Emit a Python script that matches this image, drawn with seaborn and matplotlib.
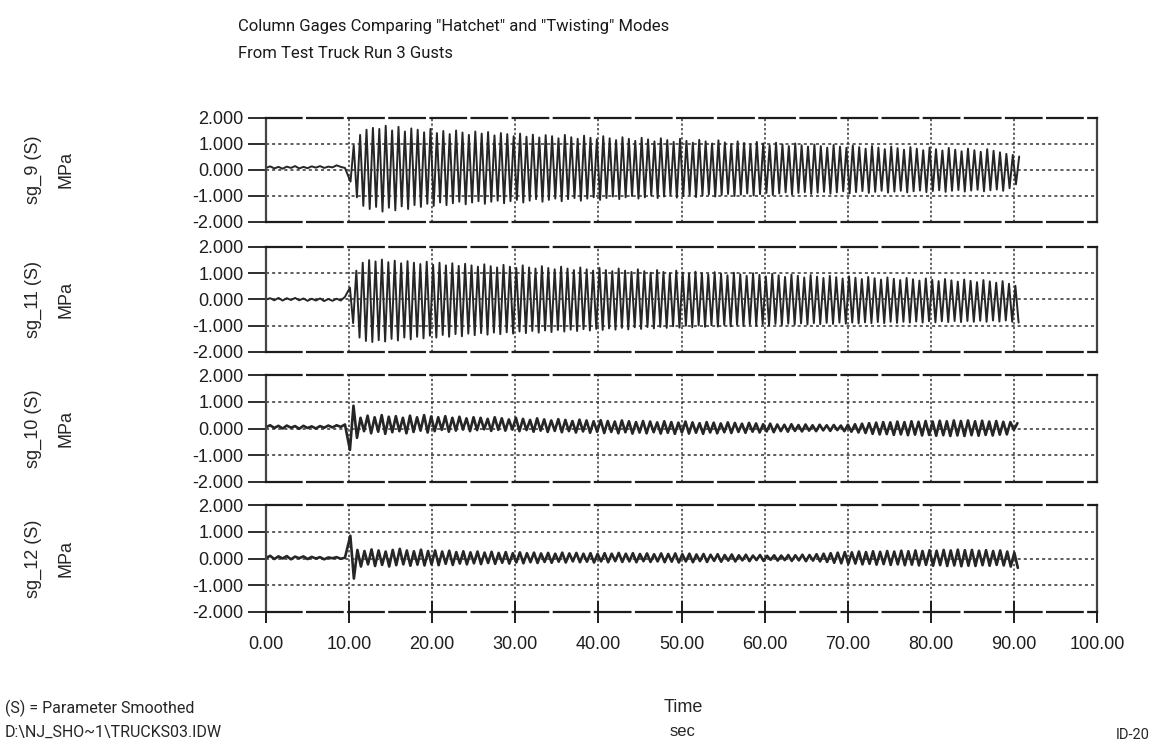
import numpy as np
import pandas as pd
import matplotlib
matplotlib.use("Agg")
import matplotlib.pyplot as plt
import seaborn as sns

sns.set_style("white")
plt.rcParams['font.family'] = ['Liberation Sans', 'DejaVu Sans']
NARROW = ['Roboto', 'Liberation Sans', 'DejaVu Sans']

# ---- data (MPa) ----
x_ticks = [0, 10, 20, 30, 40, 50, 60, 70, 80, 90, 100]
y_ticks = [-2, -1, 0, 1, 2]
panel_names = ["sg_9 (S)", "sg_11 (S)", "sg_10 (S)", "sg_12 (S)"]

# quiet part before the gust, sampled every 0.5 s from t = 0
pre_step = 0.5
sg9_pre = [0.08, 0.14, 0.06, 0.12, 0.05, 0.13, 0.08, 0.15, 0.06, 0.12,
           0.07, 0.14, 0.09, 0.15, 0.08, 0.13, 0.10, 0.18, 0.12, 0.08]
sg11_pre = [0.00, 0.05, -0.03, 0.06, -0.04, 0.05, -0.02, 0.06, -0.03, 0.04,
            -0.05, 0.03, -0.04, 0.04, -0.06, 0.02, -0.05, 0.03, -0.04, 0.10]
sg10_pre = [0.05, 0.12, 0.02, 0.10, 0.00, 0.11, 0.03, 0.09, -0.01, 0.10,
            0.02, 0.08, 0.00, 0.09, 0.03, 0.11, 0.04, 0.12, 0.06, 0.15]
sg12_pre = [0.02, 0.10, -0.02, 0.08, 0.00, 0.09, -0.03, 0.07, 0.01, 0.08,
            -0.02, 0.06, 0.00, 0.05, -0.03, 0.04, 0.01, 0.05, -0.01, 0.03]

# cycle-by-cycle peaks after the gust (hatchet mode, ~1.3 Hz)
sg9_period, sg9_first_low = 0.77, 10.17
sg9_hi = [0.95, 1.35, 1.55, 1.62, 1.58,
          1.70, 1.52, 1.66, 1.48, 1.60, 1.55,
          1.45, 1.58, 1.42, 1.50, 1.38, 1.52, 1.44, 1.35, 1.48, 1.40, 1.46, 1.33, 1.42, 1.38, 1.30,
          1.40, 1.28, 1.36, 1.25, 1.34, 1.30, 1.22, 1.35, 1.26, 1.20, 1.32, 1.24, 1.18, 1.30, 1.22,
          1.15, 1.26, 1.20, 1.12, 1.24,
          1.18, 1.10, 1.22, 1.15, 1.08, 1.20, 1.12, 1.05, 1.16, 1.10, 1.02, 1.14, 1.06, 1.00, 1.10,
          1.04, 0.98, 1.08, 1.02, 0.95,
          1.05, 0.98, 0.92, 1.02, 0.95, 0.90, 0.98, 0.92, 0.86, 0.96, 0.90, 0.85, 0.94, 0.88, 0.82,
          0.92, 0.86, 0.80, 0.90, 0.84,
          0.78, 0.88, 0.82, 0.76, 0.86, 0.80, 0.75, 0.85, 0.78, 0.72, 0.82, 0.76, 0.70, 0.80, 0.74,
          0.68, 0.62, 0.58, 0.52]
sg9_lo = [-0.45, -1.05, -1.38, -1.50, -1.42,
          -1.60, -1.45, -1.55, -1.40, -1.50, -1.35,
          -1.42, -1.30, -1.38, -1.25, -1.35, -1.28, -1.22, -1.32, -1.25, -1.20, -1.30, -1.22, -1.18,
          -1.28, -1.20,
          -1.15, -1.25, -1.18, -1.12, -1.22, -1.15, -1.10, -1.20, -1.12, -1.08, -1.18, -1.10, -1.05,
          -1.15, -1.08, -1.02, -1.12, -1.05, -1.00, -1.10,
          -1.05, -0.98, -1.08, -1.02, -0.96, -1.06, -1.00, -0.95, -1.04, -0.98, -0.94, -1.02, -0.96,
          -0.92, -1.00, -0.95, -0.90, -0.98, -0.93, -0.88,
          -0.96, -0.90, -0.86, -0.94, -0.88, -0.85, -0.92, -0.87, -0.84, -0.91, -0.86, -0.82, -0.90,
          -0.85, -0.81, -0.88, -0.84, -0.80, -0.87, -0.83,
          -0.80, -0.86, -0.82, -0.79, -0.85, -0.81, -0.78, -0.84, -0.80, -0.77, -0.83, -0.79, -0.76,
          -0.82, -0.78, -0.75, -0.80, -0.70, -0.55]

sg11_period, sg11_first_low = 0.77, 10.485
sg11_hi = [0.45, 1.10, 1.40, 1.50, 1.45,
           1.52, 1.42, 1.48, 1.38, 1.46, 1.40,
           1.35, 1.44, 1.32, 1.40, 1.30, 1.38, 1.28, 1.36, 1.30, 1.25, 1.34, 1.27, 1.22, 1.32, 1.25,
           1.20, 1.30, 1.22, 1.18, 1.27, 1.20, 1.15, 1.25, 1.18, 1.12, 1.22, 1.15, 1.10, 1.20, 1.12,
           1.08, 1.18, 1.10, 1.05, 1.15,
           1.08, 1.02, 1.12, 1.05, 1.00, 1.10, 1.02, 0.98, 1.06, 1.00, 0.95, 1.04, 0.98, 0.92, 1.02,
           0.96, 0.90, 1.00, 0.94, 0.88,
           0.98, 0.92, 0.86, 0.95, 0.90, 0.84, 0.93, 0.87, 0.82, 0.90, 0.85, 0.80, 0.88, 0.83, 0.78,
           0.86, 0.81, 0.76, 0.84, 0.79,
           0.74, 0.82, 0.77, 0.72, 0.80, 0.75, 0.70, 0.78, 0.73, 0.68, 0.76, 0.71, 0.66, 0.74, 0.69,
           0.64, 0.70, 0.60, 0.52]
sg11_lo = [-0.90, -1.45, -1.58, -1.62, -1.55,
           -1.60, -1.50, -1.56, -1.45, -1.52, -1.42,
           -1.48, -1.38, -1.45, -1.35, -1.42, -1.32, -1.40, -1.30, -1.36, -1.28, -1.34, -1.26, -1.32,
           -1.25, -1.30,
           -1.22, -1.28, -1.20, -1.26, -1.18, -1.24, -1.16, -1.22, -1.15, -1.20, -1.13, -1.18, -1.12,
           -1.16, -1.10, -1.15, -1.08, -1.14, -1.06, -1.12,
           -1.05, -1.10, -1.04, -1.08, -1.02, -1.07, -1.00, -1.06, -0.99, -1.04, -0.98, -1.03, -0.97,
           -1.02, -0.96, -1.00, -0.95, -0.99, -0.94, -0.98,
           -0.93, -0.97, -0.92, -0.96, -0.91, -0.95, -0.90, -0.94, -0.89, -0.93, -0.88, -0.92, -0.88,
           -0.91, -0.87, -0.90, -0.86, -0.90, -0.85, -0.89,
           -0.85, -0.88, -0.84, -0.88, -0.83, -0.87, -0.83, -0.86, -0.82, -0.86, -0.82, -0.85, -0.81,
           -0.85, -0.80, -0.84, -0.80, -0.85, -0.88]

# twisting mode gages, ~1.2 Hz, with the initial kick at 10 s
sg10_period, sg10_first_low = 0.85, 10.1
sg10_hi = [0.85, 0.40, 0.48, 0.42, 0.50, 0.44, 0.46, 0.40, 0.48, 0.42,
           0.50, 0.45, 0.42, 0.46, 0.40, 0.44, 0.38, 0.42, 0.40, 0.36, 0.42, 0.38, 0.34, 0.40, 0.36,
           0.32, 0.38, 0.34, 0.30, 0.35, 0.32, 0.28, 0.33, 0.30, 0.27, 0.31, 0.28, 0.26, 0.30, 0.27,
           0.24, 0.28, 0.26, 0.23, 0.27,
           0.24, 0.22, 0.26, 0.23, 0.20, 0.24, 0.22, 0.19, 0.23, 0.21, 0.18, 0.21, 0.19, 0.16, 0.18,
           0.15, 0.14, 0.16, 0.13, 0.15,
           0.12, 0.14, 0.12, 0.13, 0.11, 0.14, 0.16, 0.18, 0.20, 0.22, 0.24, 0.23, 0.26, 0.24, 0.27,
           0.25, 0.28, 0.26, 0.29, 0.27, 0.30, 0.28, 0.30, 0.27, 0.29, 0.26, 0.28, 0.25, 0.24, 0.20]
sg10_lo = [-0.80, -0.35, -0.10, -0.18, -0.12, -0.20, -0.14, -0.10, -0.18, -0.13,
           -0.08, -0.15, -0.10, -0.05, -0.12, -0.08, -0.04, -0.10, -0.06, -0.03, -0.09, -0.05, -0.08,
           -0.04, -0.10,
           -0.06, -0.12, -0.08, -0.13, -0.09, -0.14, -0.10, -0.15, -0.11, -0.16, -0.12, -0.17, -0.13,
           -0.18, -0.14, -0.19, -0.15, -0.18, -0.14, -0.19,
           -0.16, -0.20, -0.15, -0.19, -0.16, -0.20, -0.15, -0.18, -0.14, -0.17, -0.13, -0.16, -0.12,
           -0.15, -0.11, -0.14, -0.10, -0.12, -0.09, -0.11,
           -0.08, -0.10, -0.07, -0.09, -0.06, -0.10, -0.12, -0.15, -0.17, -0.20, -0.22, -0.21, -0.24,
           -0.22, -0.25,
           -0.23, -0.26, -0.24, -0.27, -0.25, -0.28, -0.26, -0.28, -0.25, -0.27, -0.24, -0.26, -0.23,
           -0.22, -0.05]

sg12_period, sg12_first_low = 0.85, 10.575
sg12_hi = [0.85, 0.32, 0.28, 0.34, 0.30, 0.26, 0.32, 0.36, 0.30, 0.27,
           0.33, 0.28, 0.30, 0.26, 0.29, 0.24, 0.27, 0.23, 0.26, 0.22, 0.25, 0.21, 0.24, 0.20, 0.23,
           0.20, 0.22, 0.19, 0.21, 0.18, 0.22, 0.19, 0.21, 0.18, 0.20, 0.17, 0.20, 0.18, 0.21, 0.18,
           0.20, 0.17, 0.19, 0.16, 0.19,
           0.17, 0.19, 0.16, 0.18, 0.15, 0.17, 0.14, 0.16, 0.13, 0.15, 0.12, 0.14, 0.11, 0.13, 0.10,
           0.12, 0.11, 0.13, 0.12, 0.14,
           0.13, 0.16, 0.18, 0.20, 0.22, 0.24, 0.23, 0.26, 0.24, 0.27, 0.25, 0.28, 0.26, 0.29, 0.27,
           0.30, 0.28, 0.31, 0.29, 0.32, 0.30, 0.33, 0.31, 0.32, 0.29, 0.31, 0.28, 0.30, 0.26, 0.22]
sg12_lo = [-0.75, -0.30, -0.22, -0.28, -0.24, -0.30, -0.25, -0.22, -0.27, -0.23,
           -0.26, -0.22, -0.25, -0.20, -0.24, -0.19, -0.22, -0.18, -0.21, -0.17, -0.20, -0.16, -0.19,
           -0.15, -0.18,
           -0.14, -0.17, -0.13, -0.16, -0.12, -0.15, -0.11, -0.14, -0.12, -0.15, -0.11, -0.14, -0.10,
           -0.13, -0.11, -0.14, -0.10, -0.13, -0.11, -0.14,
           -0.12, -0.15, -0.11, -0.14, -0.10, -0.13, -0.09, -0.12, -0.08, -0.11, -0.07, -0.10, -0.06,
           -0.09, -0.05, -0.08, -0.06, -0.09, -0.07, -0.10,
           -0.08, -0.11, -0.13, -0.16, -0.18, -0.20, -0.19, -0.22, -0.20, -0.23, -0.21, -0.24, -0.22,
           -0.25, -0.23,
           -0.26, -0.24, -0.27, -0.25, -0.28, -0.26, -0.29, -0.27, -0.28, -0.25, -0.27, -0.24, -0.26,
           -0.30, -0.35]


def build_trace(pre, first_low, period, lows, highs, low_first=True):
    t_pre = np.arange(len(pre)) * pre_step
    n = min(len(lows), len(highs))
    t_lo = first_low + period * np.arange(n)
    if low_first:
        t_hi = t_lo + period / 2
    else:
        t_hi = t_lo - period / 2
    t_osc = np.column_stack([t_lo, t_hi]).ravel()
    v_osc = np.column_stack([lows[:n], highs[:n]]).ravel()
    order = np.argsort(t_osc, kind="stable")
    return pd.DataFrame({"Time": np.concatenate([t_pre, t_osc[order]]),
                         "MPa": np.concatenate([pre, v_osc[order]])})


traces = [
    build_trace(sg9_pre, sg9_first_low, sg9_period, sg9_lo, sg9_hi, True),
    build_trace(sg11_pre, sg11_first_low, sg11_period, sg11_lo, sg11_hi, False),
    build_trace(sg10_pre, sg10_first_low, sg10_period, sg10_lo, sg10_hi, True),
    build_trace(sg12_pre, sg12_first_low, sg12_period, sg12_lo, sg12_hi, False),
]
line_widths = [1.4, 1.4, 1.9, 1.9]

fig = plt.figure(figsize=(11.54, 7.43), dpi=100)
W, H = 1154, 743
# panel (top, bottom) edges in pixels
panel_px = [(118, 222), (247, 352), (375, 482), (505, 612)]
left_px, right_px = 266, 1097
ink = "#1c1c1c"

for i, (name, df, (top, bot)) in enumerate(zip(panel_names, traces, panel_px)):
    ax = fig.add_axes([left_px / W, 1 - bot / H, (right_px - left_px) / W, (bot - top) / H])
    sns.lineplot(data=df, x="Time", y="MPa", ax=ax, color="#262626", lw=line_widths[i],
                 estimator=None, sort=False)
    ax.set_xlim(0, 100)
    ax.set_ylim(-2, 2)
    ax.set_xticks(x_ticks)
    ax.set_yticks(y_ticks)
    ax.set_yticklabels([f"{v:.3f}" for v in y_ticks], fontsize=13, color="#1e1e1e")
    ax.set_xlabel("")
    ax.set_ylabel("")
    for v in [-1, 0, 1]:
        ax.axhline(v, color="#333333", lw=1.1, ls=(0, (2, 2)), zorder=0)
    for v in x_ticks[1:-1]:
        ax.axvline(v, color="#333333", lw=1.1, ls=(0, (1.5, 1.5)), zorder=0)
    for side in ["top", "bottom"]:
        ax.spines[side].set_linestyle((0, (16, 2.5)))
        ax.spines[side].set_linewidth(1.6)
        ax.spines[side].set_color(ink)
    for side in ["left", "right"]:
        ax.spines[side].set_linewidth(1.6)
        ax.spines[side].set_color("#444444")
    ax.tick_params(axis="y", left=True, direction="out", length=13, width=1.3, pad=3,
                   color=ink)
    if i == 3:
        ax.set_xticklabels([f"{v:.2f}" for v in x_ticks], fontsize=13, color="#1e1e1e")
        ax.tick_params(axis="x", bottom=True, direction="inout", length=16, width=1.4,
                       pad=9, color=ink)
    else:
        ax.tick_params(axis="x", length=0, labelbottom=False)
    yc = 1 - (top + bot) / 2 / H
    fig.text(33 / W, yc, name, rotation=90, ha="center", va="center", fontsize=13)
    fig.text(66 / W, yc, "MPa", rotation=90, ha="center", va="center", fontsize=13)

fig.text(238 / W, 1 - 27 / H, 'Column Gages Comparing "Hatchet" and "Twisting" Modes',
         ha="left", va="center", fontsize=12, family=NARROW, color="#1a1a1a")
fig.text(238 / W, 1 - 53 / H, "From Test Truck Run 3 Gusts",
         ha="left", va="center", fontsize=12, family=NARROW, color="#1a1a1a")

fig.text(683 / W, 1 - 708 / H, "Time", ha="center", va="center", fontsize=13)
fig.text(683 / W, 1 - 732 / H, "sec", ha="center", va="center", fontsize=12)
fig.text(5 / W, 1 - 708 / H, "(S) = Parameter Smoothed", ha="left", va="center",
         fontsize=11.5, family=NARROW)
fig.text(5 / W, 1 - 732 / H, "D:\\NJ_SHO~1\\TRUCKS03.IDW", ha="left", va="center",
         fontsize=11.5, family=NARROW)
fig.text(1150 / W, 1 - 735 / H, "ID-20", ha="right", va="center", fontsize=10.5,
         family=NARROW)

fig.savefig("out.png", dpi=100, facecolor="white")
